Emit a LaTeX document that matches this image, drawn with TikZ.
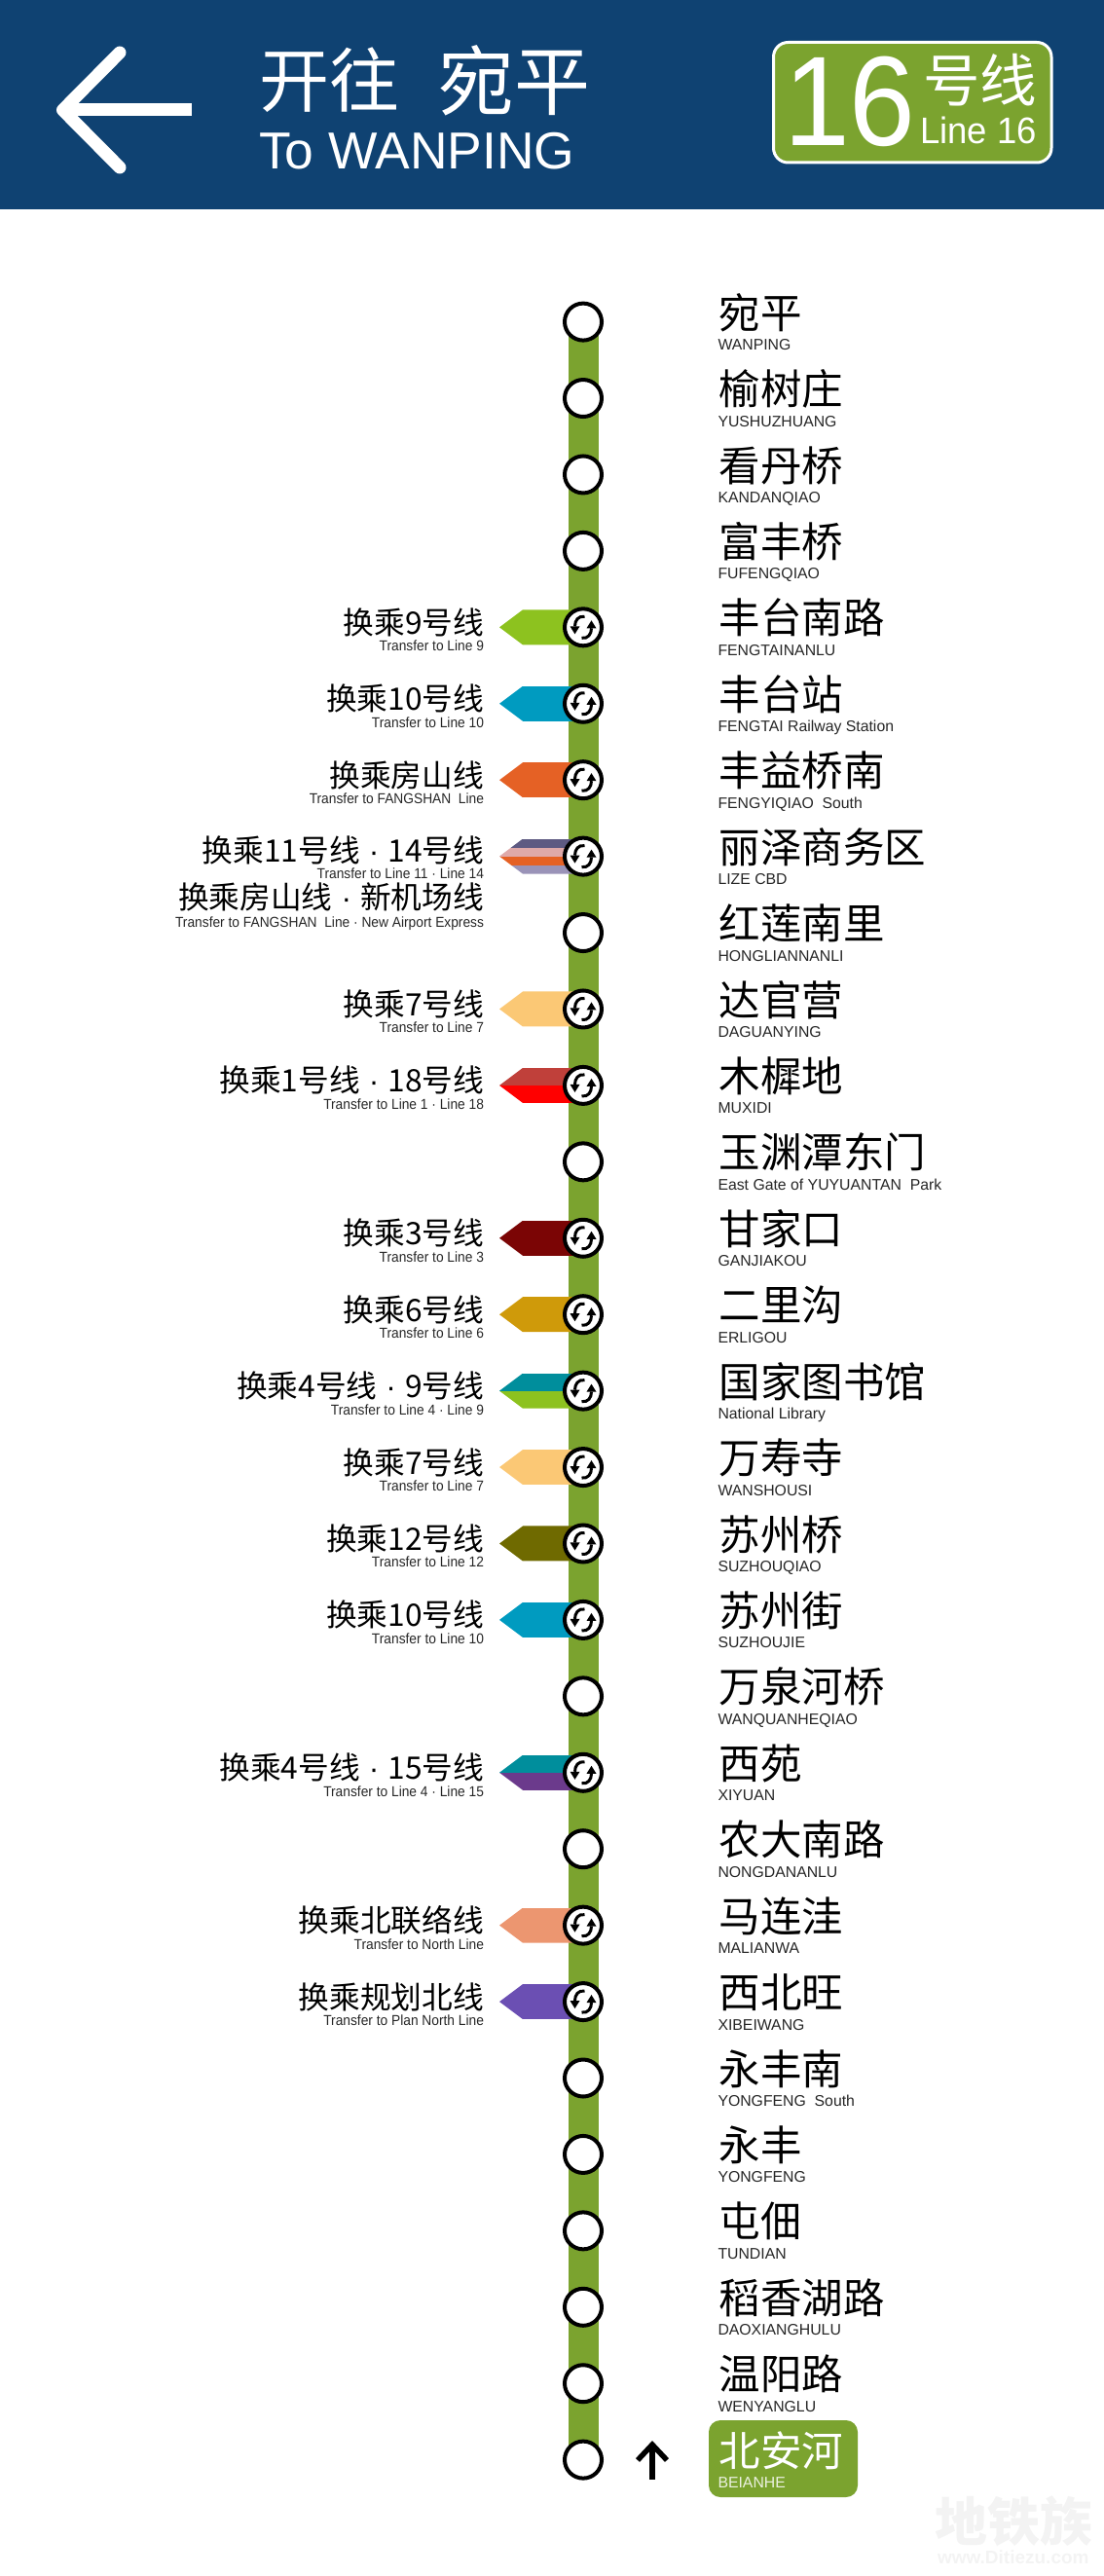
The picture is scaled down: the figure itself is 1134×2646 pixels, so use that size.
\documentclass[tikz,border=0pt]{standalone}
\usepackage{fontspec}
\usetikzlibrary{backgrounds}
\setmainfont{Liberation Sans}
\newfontfamily\cjk{Noto Sans CJK SC}
\newfontfamily\libn[FakeStretch=0.93]{Liberation Sans}
\newfontfamily\libm[FakeStretch=0.96]{Liberation Sans}
\newcommand{\fsz}[1]{\fontsize{#1}{#1}\selectfont}
\newcommand{\dotsep}{\hspace{9pt}{\normalfont·}\hspace{9pt}}
\definecolor{navy}{HTML}{0F4272}
\definecolor{lineg}{HTML}{7BA32F}
\definecolor{wm}{HTML}{F3F3F3}
\definecolor{tnine}{HTML}{8DC21F}
\definecolor{tten}{HTML}{009BC0}
\definecolor{tfang}{HTML}{E56125}
\definecolor{tseven}{HTML}{FBC875}
\definecolor{tfour}{HTML}{008E9C}
\definecolor{tthree}{HTML}{7B0505}
\definecolor{tsix}{HTML}{CF9A0A}
\definecolor{ttwelve}{HTML}{6F6A00}
\definecolor{tfifteen}{HTML}{6B3A8C}
\definecolor{tnorth}{HTML}{EC9670}
\definecolor{tplan}{HTML}{6B4FB3}
\definecolor{tone}{HTML}{C0403A}
\definecolor{tpa}{HTML}{5E5A82}
\definecolor{tpb}{HTML}{DFA9A9}
\definecolor{tpc}{HTML}{9A93B8}
\tikzset{
  txt/.style={inner sep=0pt,outer sep=0pt,anchor=base west},
  stn/.style={txt,font=\cjk\fsz{42.5},text=black},
  stnen/.style={txt,font=\fsz{15.8},text=black!85},
  lab/.style={inner sep=0pt,outer sep=0pt,anchor=base east,font=\cjk\fsz{31.7},text=black},
  laben/.style={inner sep=0pt,outer sep=0pt,anchor=base east,font=\libn\fsz{14.8},text=black!85},
  halt/.style={circle,draw=black,fill=white,line width=4pt,minimum size=38pt,inner sep=0pt},
  xfer/.pic={
    \foreach \r in {0,180}{
      \begin{scope}[rotate=\r]
        \draw[line width=3pt,black] (1.5,-11) .. controls (-5,-12) and (-8.5,-7) .. (-8.5,-1);
        \fill[black] (-13.5,-1) -- (-3.5,-1) -- (-8.5,7) -- cycle;
      \end{scope}
    }
  }
}
\newcommand{\xtag}[2]{%
  \begin{scope}
    \clip (513,#1) -- (537,#1-18) -- (590,#1-18) -- (590,#1+18) -- (537,#1+18) -- cycle;
    \foreach \cc [count=\k] in #2 {\xdef\nstripes{\k}}
    \foreach \cc [count=\k] in #2 {
      \fill[\cc] (500,{#1-18+36*(\k-1)/\nstripes}) rectangle (600,{#1-18+36*\k/\nstripes+0.3});
    }
  \end{scope}}
\begin{document}
\begin{tikzpicture}[x=1pt,y=-1pt]
\useasboundingbox (0,0) rectangle (1134,2646);
% header
\fill[navy] (0,0) rectangle (1134,215);
\coordinate (at) at (123,54);
\coordinate (ah) at (64.5,113);
\coordinate (ab) at (123,172);
\coordinate (ae) at (197,113);
\draw[white,line width=13pt,line cap=round,line join=round] (at) -- (ah) -- (ab);
\draw[white,line width=13pt] (ah) -- (ae);
\node[txt,font=\cjk\fsz{72},text=white] (h1) at (266,110) {开往};
\node[txt,font=\cjk\fsz{78},text=white] (h2) at (450,113) {宛平};
\node[txt,font=\fsz{53.4},text=white] (h3) at (266,174) {To WANPING};
\draw[white,line width=3pt,fill=lineg,rounded corners=15pt] (794.5,43.5) rectangle (1080,167);
\node[txt,font=\libn\fsz{131},text=white] (h4) at (805,150) {16};
\node[txt,font=\cjk\fsz{58.5},text=white] (h5) at (948,105) {号线};
\node[txt,font=\libm\fsz{38},text=white] (h6) at (945,148) {Line 16};
% stations
\foreach \i/\cn/\en in {
 0/宛平/WANPING,
 1/榆树庄/YUSHUZHUANG,
 2/看丹桥/KANDANQIAO,
 3/富丰桥/FUFENGQIAO,
 4/丰台南路/FENGTAINANLU,
 5/丰台站/FENGTAI Railway Station,
 6/丰益桥南/FENGYIQIAO\ \ South,
 7/丽泽商务区/LIZE CBD,
 8/红莲南里/HONGLIANNANLI,
 9/达官营/DAGUANYING,
 10/木樨地/MUXIDI,
 11/玉渊潭东门/East Gate of YUYUANTAN\ \ Park,
 12/甘家口/GANJIAKOU,
 13/二里沟/ERLIGOU,
 14/国家图书馆/National Library,
 15/万寿寺/WANSHOUSI,
 16/苏州桥/SUZHOUQIAO,
 17/苏州街/SUZHOUJIE,
 18/万泉河桥/WANQUANHEQIAO,
 19/西苑/XIYUAN,
 20/农大南路/NONGDANANLU,
 21/马连洼/MALIANWA,
 22/西北旺/XIBEIWANG,
 23/永丰南/YONGFENG\ \ South,
 24/永丰/YONGFENG,
 25/屯佃/TUNDIAN,
 26/稻香湖路/DAOXIANGHULU,
 27/温阳路/WENYANGLU}{
  \pgfmathsetmacro{\y}{330.6+78.43*\i}
  \node[halt] (s\i) at (599,\y) {};
  \node[stn] (c\i) at (738.5,\y+6.6) {\cn};
  \node[stnen] (e\i) at (737.5,\y+29) {\en};
}
\node[halt] (s28) at (599,2526.6) {};
\fill[lineg,rounded corners=12pt] (728,2486) rectangle (881,2565);
\node[stn,text=white] (c28) at (738.5,2533) {北安河};
\node[stnen,text=lineg!15!white] (e28) at (737.5,2555.5) {BEIANHE};
% trunk and transfer tags, behind the station circles
\begin{pgfonlayer}{background}
  \draw[lineg,line width=31pt] (s0.center) -- (s28.center);
  \foreach \i/\cols in {
    4/{tnine}, 5/{tten}, 6/{tfang},
    9/{tseven}, 12/{tthree}, 13/{tsix},
    14/{tfour,tnine}, 15/{tseven}, 16/{ttwelve}, 17/{tten},
    19/{tfour,tfifteen}, 21/{tnorth}, 22/{tplan},
    10/{tone,red}, 7/{tpa,tpb,tfang,tpc}}{
    \pgfmathsetmacro{\y}{330.6+78.43*\i}
    \xtag{\y}{\cols}
  }
\end{pgfonlayer}
% transfer icons
\foreach \i in {4,5,6,7,9,10,12,13,14,15,16,17,19,21,22}{
  \path (s\i.center) pic {xfer};
}
% labels
\foreach \i/\cn/\en in {
 4/换乘9号线/Transfer to Line 9,
 5/换乘10号线/Transfer to Line 10,
 6/换乘房山线/Transfer to FANGSHAN\ \ Line,
 9/换乘7号线/Transfer to Line 7,
 10/换乘1号线\dotsep 18号线/Transfer to Line 1\ · Line 18,
 12/换乘3号线/Transfer to Line 3,
 13/换乘6号线/Transfer to Line 6,
 14/换乘4号线\dotsep 9号线/Transfer to Line 4\ · Line 9,
 15/换乘7号线/Transfer to Line 7,
 16/换乘12号线/Transfer to Line 12,
 17/换乘10号线/Transfer to Line 10,
 19/换乘4号线\dotsep 15号线/Transfer to Line 4\ · Line 15,
 21/换乘北联络线/Transfer to North Line,
 22/换乘规划北线/Transfer to Plan North Line}{
  \pgfmathsetmacro{\y}{330.6+78.43*\i}
  \node[lab] (l\i) at (497,\y+7) {\cn};
  \node[laben] (m\i) at (497,\y+24.5) {\en};
}
\node[lab] (l7) at (497,885.5) {换乘11号线\dotsep 14号线};
\node[laben] (m7) at (497,902) {Transfer to Line 11\ · Line 14};
\node[lab] (l7b) at (497,933) {换乘房山线\dotsep 新机场线};
\node[laben] (m7b) at (497,952) {Transfer to FANGSHAN\ \ Line\ · New Airport Express};
% up arrow
\coordinate (ub) at (670,2547);
\coordinate (ut) at (670,2511);
\coordinate (ul) at (655,2527);
\coordinate (ur) at (685,2527);
\draw[black,line width=5.5pt] (ub) -- (ut);
\draw[black,line width=5.5pt,line join=miter] (ul) -- (ut) -- (ur);
% watermark
\node[txt,font=\cjk\bfseries\fsz{54},text=wm] (w1) at (960,2610) {地铁族};
\node[txt,font=\bfseries\fsz{19},text=wm] (w2) at (963,2633) {www.Ditiezu.com};
\end{tikzpicture}
\end{document}
